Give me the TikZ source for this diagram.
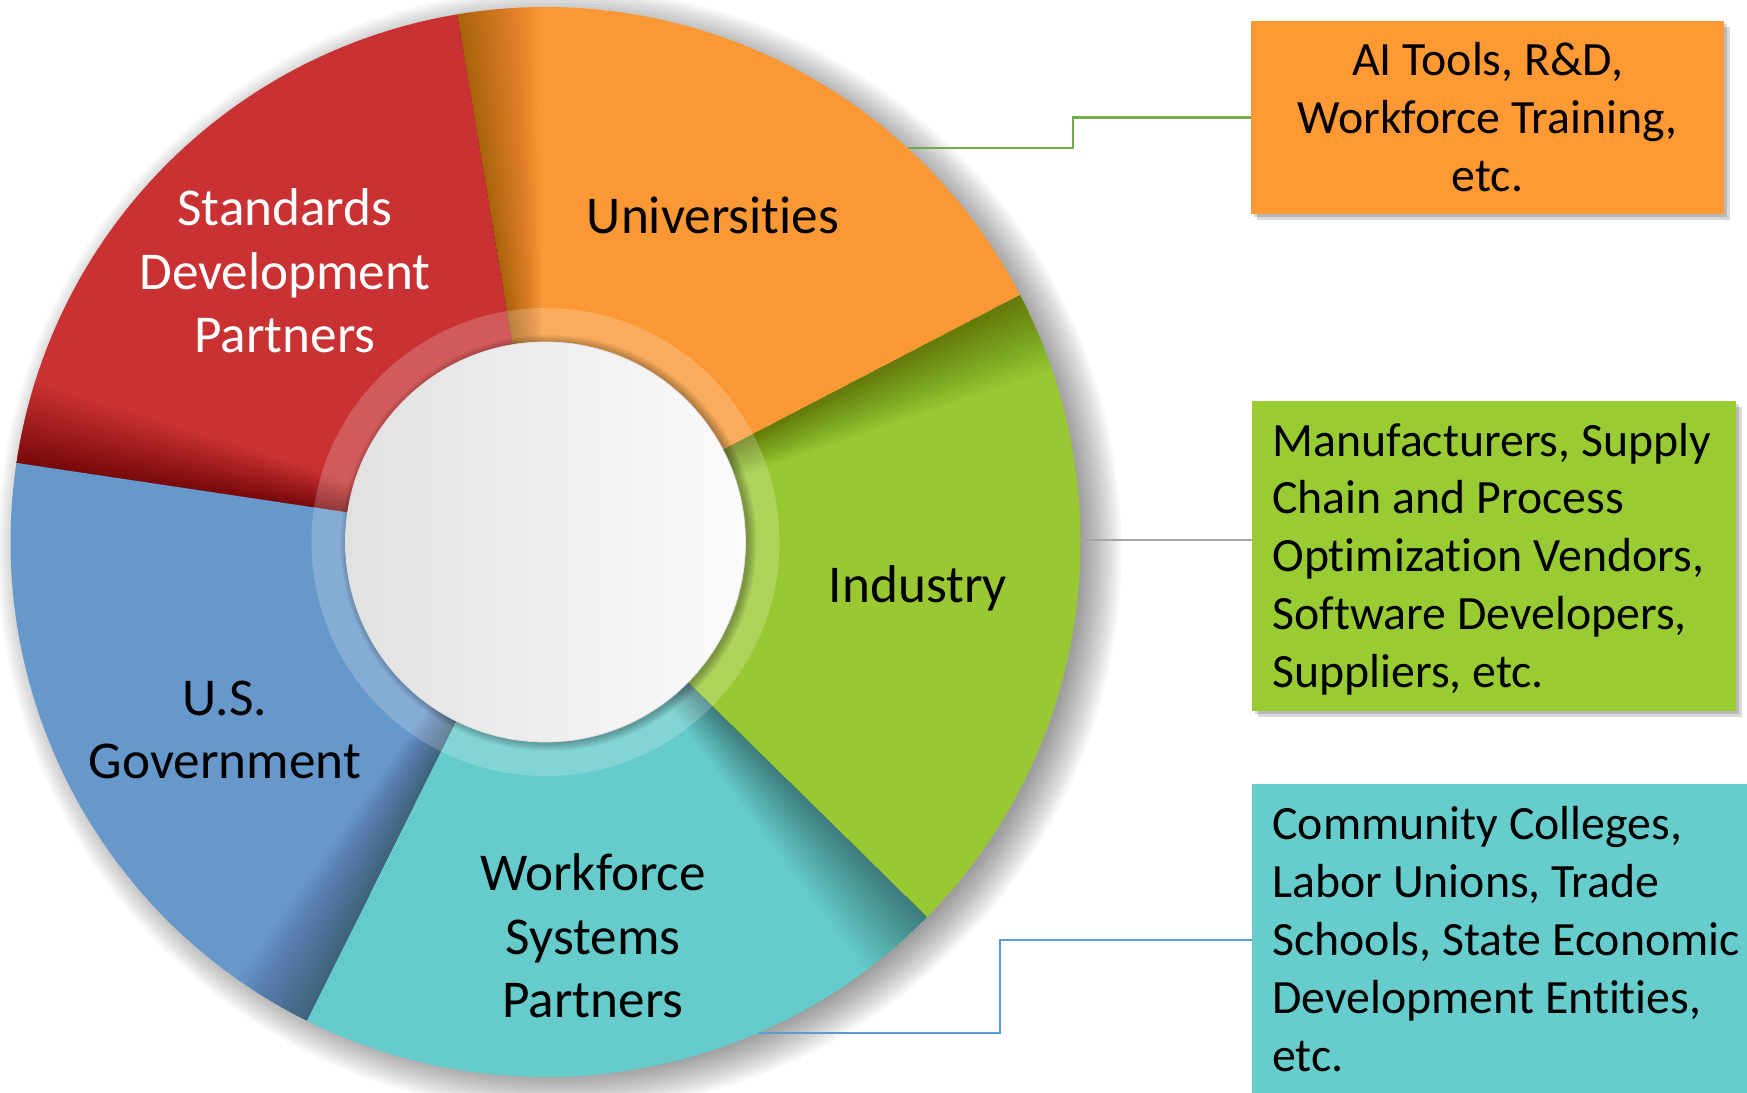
\documentclass[tikz,border=0pt]{standalone}
\usepackage{fontspec}
\setmainfont{Carlito}[Ligatures={NoCommon}]
\usetikzlibrary{calc,shadows}
\definecolor{cRed}{RGB}{201,49,50}
\definecolor{cOrange}{RGB}{249,152,52}
\definecolor{cGreen}{RGB}{153,200,50}
\definecolor{cTeal}{RGB}{101,203,203}
\definecolor{cBlue}{RGB}{103,152,203}
\definecolor{bOrange}{RGB}{255,153,51}
\definecolor{bGreen}{RGB}{153,204,51}
\definecolor{bTeal}{RGB}{102,204,204}
\definecolor{lGreen}{RGB}{112,173,71}
\definecolor{lGray}{RGB}{165,165,165}
\definecolor{lBlue}{RGB}{91,155,213}
\definecolor{wcL}{RGB}{225,225,225}
\definecolor{wcR}{RGB}{251,251,251}
\newcommand\segshade[1]{%
  \foreach \k in {1,...,40}{%
    \fill[black,opacity=0.009] (c) -- ++(#1-0.22*\k:535) arc[start angle=#1-0.22*\k, end angle=#1, radius=535] -- cycle;}}
\newcommand\segwedge[3]{%
  \fill[#1] (c) -- ++(#2:535) arc[start angle=#2, end angle=#3, radius=535] -- cycle;}
\begin{document}
\begin{tikzpicture}[x=0.5pt,y=0.5pt,
  seglabel/.style={font=\fontsize{26.6}{31.75}\selectfont, align=center, inner sep=0pt, text=black},
  boxtext/.style={font=\fontsize{23.9}{28.9}\selectfont, inner sep=0pt, text=black},
  infobox/.style={draw=none, inner sep=0pt,
    drop shadow={shadow xshift=1.5pt, shadow yshift=-1.5pt, opacity=0.15, fill=black},
    drop shadow={shadow xshift=3pt, shadow yshift=-3pt, opacity=0.15, fill=black}},
  conn/.style={line width=1.3pt, line join=miter}
]
\useasboundingbox (0,0) rectangle (1747,1093);
\clip (0,0) rectangle (1747,1093);
\fill[white] (0,0) rectangle (1747,1093);
\coordinate (c) at (545.5,551);

% information boxes
\node[infobox, fill=bOrange, minimum width=236.5pt, minimum height=96.5pt] (obox) at (1487.5,975.5) {};
\node[infobox, fill=bGreen, minimum width=242pt, minimum height=155pt] (gbox) at (1494,537) {};
\node[infobox, fill=bTeal, minimum width=259pt, minimum height=156pt] (tbox) at (1511,153) {};

\node[boxtext, align=center] (otext) at (1487.5,976) {AI Tools, R\&D,\\Workforce Training,\\etc.};
\node[boxtext, align=left, anchor=west] (gtext) at (1272,534) {Manufacturers, Supply\\Chain and Process\\Optimization Vendors,\\Software Developers,\\Suppliers, etc.};
\node[boxtext, align=left, anchor=west] (ttext) at (1272,154) {Community Colleges,\\Labor Unions, Trade\\Schools, State Economic\\Development Entities,\\etc.};

% outer soft shadow of the ring
\foreach \k in {1,...,14}{\fill[black,opacity=0.03] ($(c)+(14,-8)$) circle[radius=520+3*\k];}

% connectors
\coordinate (gs) at (908,945);
\coordinate (ys) at (1081,553);
\coordinate (bs) at (758,60);
\draw[conn, lGreen] (gs) -- (1073,945) |- (obox.west);
\draw[conn, lGray] (ys) -- (ys -| gbox.west);
\draw[conn, lBlue] (bs) -- (1000,60) |- (tbox.west);

% segments
\segwedge{cOrange}{27.5}{99.5}
\segwedge{cRed}{99.5}{171.5}
\segwedge{cBlue}{171.5}{243.5}
\segwedge{cTeal}{243.5}{315.5}
\segwedge{cGreen}{315.5}{387.5}
% shadows along counter-clockwise edges
\segshade{99.5}
\segshade{171.5}
\segshade{243.5}
\segshade{315.5}
\segshade{387.5}

% translucent ring and inner disc
\fill[white,opacity=0.2] (c) circle[radius=234];
\foreach \k in {1,...,6}{\fill[black,opacity=0.05] ($(c)+(3,-1)$) circle[radius=199+1.5*\k];}
\shade[left color=wcL, right color=wcR] (c) circle[radius=200];
\draw[black!12, line width=0.4pt] (c) circle[radius=200];

% segment labels
\node[seglabel] (uni) at (713,878) {Universities};
\node[seglabel, text=white] (sdp) at (285,822) {Standards\\Development\\Partners};
\node[seglabel] (ind) at (918,505) {Industry};
\node[seglabel] (gov) at (225,363) {U.S.\\Government};
\node[seglabel] (wsp) at (593,157) {Workforce\\Systems\\Partners};
\end{tikzpicture}
\end{document}
